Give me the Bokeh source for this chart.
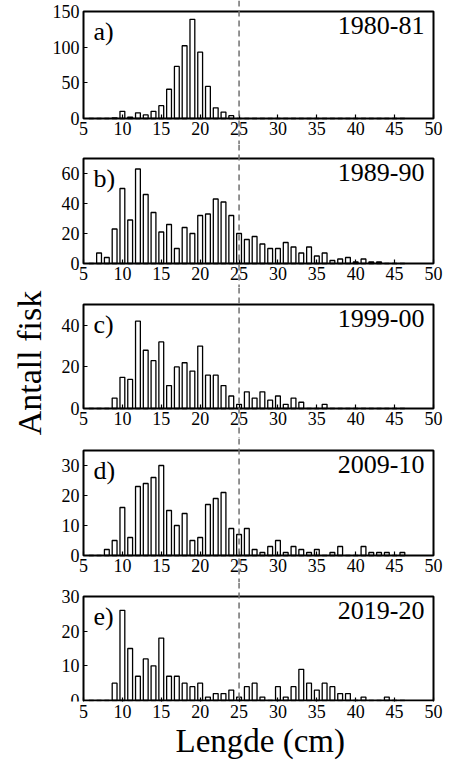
from bokeh.plotting import figure
from bokeh.models import Range1d, FixedTicker, Span, Label, LinearAxis, Title
from bokeh.layouts import column
from bokeh.embed import file_html
from bokeh.resources import INLINE

# ---------------- data ----------------
lengths = [6, 7, 8, 9, 10, 11, 12, 13, 14, 15, 16, 17, 18, 19, 20, 21, 22, 23, 24, 25,
           26, 27, 28, 29, 30, 31, 32, 33, 34, 35, 36, 37, 38, 39, 40, 41, 42, 43, 44, 45, 46]

counts_1980 = [0, 0, 0, 1, 10, 2, 8, 5, 10, 18, 41, 73, 102, 139, 93, 45, 15, 9, 4, 0,
               0, 0, 0, 0, 0, 0, 0, 0, 0, 0, 0, 0, 0, 0, 0, 0, 0, 0, 0, 0, 0]
counts_1989 = [0, 7, 4, 23, 50, 29, 63, 46, 34, 21, 26, 10, 24, 20, 32, 33, 43, 41, 32, 20,
               16, 18, 13, 10, 10, 14, 11, 7, 11, 5, 7, 2, 3, 4, 1, 3, 1, 1, 0, 0, 0]
counts_1999 = [0, 0, 0, 5, 15, 14, 42, 28, 23, 32, 11, 20, 22, 18, 30, 16, 16, 11, 6, 2,
               8, 5, 8, 4, 6, 2, 5, 3, 0, 0, 2, 0, 0, 0, 0, 0, 0, 0, 0, 0, 0]
counts_2009 = [0, 0, 2, 5, 16, 6, 23, 24, 26, 30, 15, 10, 14, 5, 6, 17, 19, 21, 9, 7,
               9, 2, 1, 3, 5, 1, 3, 2, 1, 2, 0, 1, 3, 0, 0, 3, 1, 1, 1, 0, 1]
counts_2019 = [0, 0, 0, 5, 26, 15, 7, 12, 10, 18, 7, 7, 5, 4, 5, 1, 2, 2, 3, 1,
               4, 5, 1, 0, 4, 1, 4, 9, 5, 3, 5, 4, 2, 2, 0, 1, 0, 0, 1, 0, 0]

all_counts = [counts_1980, counts_1989, counts_1999, counts_2009, counts_2019]
panel_letters = ["a)", "b)", "c)", "d)", "e)"]
seasons = ["1980-81", "1989-90", "1999-00", "2009-10", "2019-20"]
y_max = [150, 70, 50, 35, 30]
y_ticks = [[0, 50, 100, 150], [0, 20, 40, 60], [0, 20, 40], [0, 10, 20, 30], [0, 10, 20, 30]]
x_ticks = [5, 10, 15, 20, 25, 30, 35, 40, 45, 50]
min_length_ref = 25
x_label = "Lengde (cm)"
y_label = "Antall fisk"

# ---------------- layout (pixels, relative to the layout's top-left) ----------------
FONT = "Liberation Serif"
tops = [11, 158, 304, 450, 596]        # y of each panel's top edge
zeros = [118, 263, 408, 555, 700]      # y of each panel's zero line
label_tops = [16, 163, 309, 455, 601]  # y of the top of the panel texts
splits = [0, 144, 287, 438, 582, 701]  # y where one figure's frame meets the next
FIG_W = 446
FRAME_L = 49       # x of frame left
BOX_L = 83         # x of length 5
BOX_R = 433        # x of length 50
FRAME_R = FIG_W
BOTTOM_E = 59

ppx = (BOX_R - BOX_L) / (x_ticks[-1] - x_ticks[0])
x_lo = x_ticks[0] - (BOX_L - FRAME_L) / ppx
x_hi = x_ticks[-1] + (FRAME_R - BOX_R) / ppx

figs = []
for i in range(5):
    ymax = y_max[i]
    plot_h = zeros[i] - tops[i]
    ppu = plot_h / ymax
    frame_top = splits[i]
    frame_bot = splits[i + 1]
    border_bottom = BOTTOM_E if i == 4 else 0

    p = figure(width=FIG_W,
               height=(frame_bot - frame_top) + border_bottom,
               x_range=Range1d(x_lo, x_hi),
               y_range=Range1d(-(frame_bot - zeros[i]) / ppu,
                               ymax + (tops[i] - frame_top) / ppu),
               output_backend="svg", toolbar_location=None,
               min_border_left=FRAME_L, min_border_right=0,
               min_border_top=0, min_border_bottom=border_bottom)
    p.outline_line_color = None
    p.xgrid.visible = False
    p.ygrid.visible = False
    p.background_fill_color = "white"
    p.border_fill_color = "white"

    # bars
    p.vbar(x=lengths, top=all_counts[i], bottom=0, width=0.62,
           fill_color="white", line_color="black", line_width=1.3)

    # panel box
    p.quad(left=[x_ticks[0]], right=[x_ticks[-1]], bottom=[0], top=[ymax],
           fill_color=None, line_color="black", line_width=2)

    # reference line
    p.add_layout(Span(location=min_length_ref, dimension="height",
                      line_color="#707070", line_dash="6 4", line_width=1.5))

    # panel labels
    label_y = ymax - (label_tops[i] - tops[i]) / ppu
    p.add_layout(Label(x=x_ticks[0] + 10 / ppx, y=label_y, text=panel_letters[i],
                       text_align="left", text_baseline="top",
                       text_font=FONT, text_font_size="26px", text_color="black"))
    p.add_layout(Label(x=x_ticks[-1] - 9 / ppx, y=label_y, text=seasons[i],
                       text_align="right", text_baseline="top",
                       text_font=FONT, text_font_size="26px", text_color="black"))

    xa = p.xaxis[0]
    ya = p.yaxis[0]
    for ax in (xa, ya):
        ax.axis_line_color = None
        ax.major_tick_in = 4
        ax.major_tick_out = 0
        ax.major_tick_line_width = 1.2
        ax.minor_tick_line_color = None
        ax.major_label_text_font = FONT
        ax.major_label_text_font_size = "18px"
        ax.major_label_text_color = "black"
    xa.ticker = FixedTicker(ticks=x_ticks)
    xa.major_label_standoff = 3
    ya.ticker = FixedTicker(ticks=y_ticks[i])
    ya.major_label_standoff = 4
    ya.fixed_location = x_ticks[0]

    if i < 4:
        xa.fixed_location = 0
    else:
        p.add_layout(Title(text=x_label, align="left", offset=175 - FRAME_L,
                           text_font=FONT, text_font_size="33px",
                           text_font_style="normal", text_color="black",
                           standoff=0), "below")
    if i == 2:
        lab_axis = LinearAxis(ticker=FixedTicker(ticks=[]), axis_line_color=None,
                              major_tick_out=0, major_tick_in=0,
                              minor_tick_line_color=None,
                              axis_label=y_label, axis_label_text_font=FONT,
                              axis_label_text_font_size="34px",
                              axis_label_text_font_style="normal",
                              axis_label_text_color="black",
                              axis_label_standoff=2)
        p.add_layout(lab_axis, "left")
    figs.append(p)

layout = column(*figs, spacing=0)
open("out.html", "w").write(file_html(layout, INLINE))
